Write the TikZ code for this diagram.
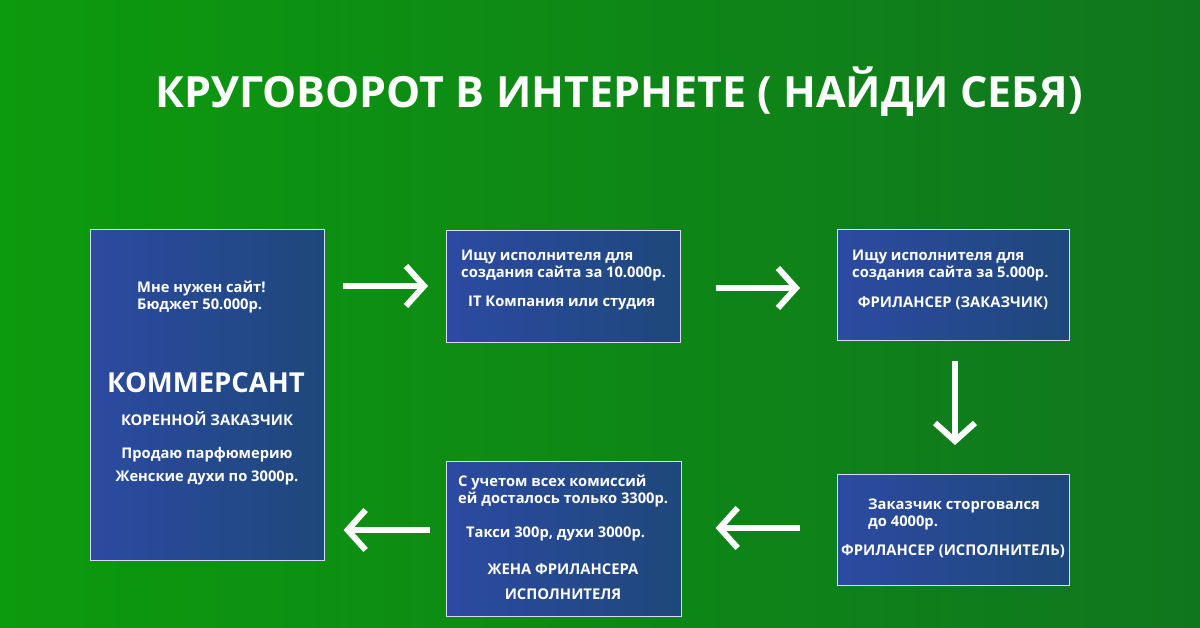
\documentclass[tikz,border=0pt]{standalone}
\usepackage{fontspec}
\setmainfont{Open Sans}
\usetikzlibrary{arrows.meta}
\definecolor{bgL}{RGB}{12,154,14}
\definecolor{bgR}{RGB}{16,118,30}
\definecolor{boxL}{RGB}{44,74,162}
\definecolor{boxR}{RGB}{30,72,122}
\tikzset{
  panel/.style={draw=white!85!blue,line width=0.6pt,left color=boxL,right color=boxR,anchor=north west},
  txt/.style={text=white,font=\bfseries\fontsize{14.7}{17}\selectfont,inner sep=0pt},
  caps/.style={txt,font=\bfseries\fontsize{14.8}{16}\selectfont},
  flow/.style={draw=white,line width=6pt,-{Straight Barb[length=18pt,width=40pt,line width=6pt]}}
}
\begin{document}
\begin{tikzpicture}[x=1pt,y=-1pt]
\useasboundingbox (0,0) rectangle (1200,628);
\shade[left color=bgL,right color=bgR] (0,0) rectangle (1200,628);

% title
\node[txt,font=\bfseries\fontsize{43}{46}\selectfont] (title) at (619,92) {КРУГОВОРОТ В ИНТЕРНЕТЕ ( НАЙДИ СЕБЯ)};

% panels
\node[panel,minimum width=234pt,minimum height=331pt] (merchant) at (90,229) {};
\node[panel,minimum width=234pt,minimum height=112pt] (studio) at (446,230) {};
\node[panel,minimum width=232pt,minimum height=111pt] (client) at (837,229) {};
\node[panel,minimum width=232pt,minimum height=111pt] (worker) at (837,474) {};
\node[panel,minimum width=235pt,minimum height=155pt] (wife) at (446,461) {};

% texts
\node[txt,anchor=west,align=left] (m1) at (137,297) {Мне нужен сайт!\\Бюджет 50.000р.};
\node[txt,font=\bfseries\fontsize{27.5}{30}\selectfont] (m2) at (206,383) {КОММЕРСАНТ};
\node[caps] (m3) at (207,419) {КОРЕННОЙ ЗАКАЗЧИК};
\node[txt] (m4) at (207,455) {Продаю парфюмерию};
\node[txt] (m5) at (207,478) {Женские духи по 3000р.};
\node[txt,anchor=west,align=left] (s1) at (461,266) {Ищу исполнителя для\\создания сайта за 10.000р.};
\node[txt,anchor=west] (s2) at (468,303) {IT Компания или студия};
\node[txt,anchor=west,align=left] (c1) at (852,266) {Ищу исполнителя для\\создания сайта за 5.000р.};
\node[caps] (c2) at (953,303) {ФРИЛАНСЕР (ЗАКАЗЧИК)};
\node[txt,anchor=west,align=left] (w1) at (868,514) {Заказчик сторговался\\до 4000р.};
\node[caps] (w2) at (953,551) {ФРИЛАНСЕР (ИСПОЛНИТЕЛЬ)};
\node[txt,anchor=west,align=left] (f1) at (458,491) {С учетом всех комиссий\\ей досталось только 3300р.};
\node[txt,anchor=west] (f2) at (466,534) {Такси 300р, духи 3000р.};
\node[caps] (f3) at (563,569) {ЖЕНА ФРИЛАНСЕРА};
\node[caps] (f4) at (563,594) {ИСПОЛНИТЕЛЯ};

% arrows
\draw[flow,shorten <=18pt,shorten >=18pt] (merchant.east |- 0,286) -- (studio.west |- 0,286);
\draw[flow,shorten <=35pt,shorten >=37pt] (studio.east |- 0,288) -- (client.west |- 0,288);
\draw[flow,shorten <=20pt,shorten >=29pt] (client.south -| 955,0) -- (worker.north -| 955,0);
\draw[flow,shorten <=37pt,shorten >=34pt] (worker.west |- 0,528) -- (wife.east |- 0,528);
\draw[flow,shorten <=16pt,shorten >=19pt] (wife.west |- 0,530) -- (merchant.east |- 0,530);
\end{tikzpicture}
\end{document}
